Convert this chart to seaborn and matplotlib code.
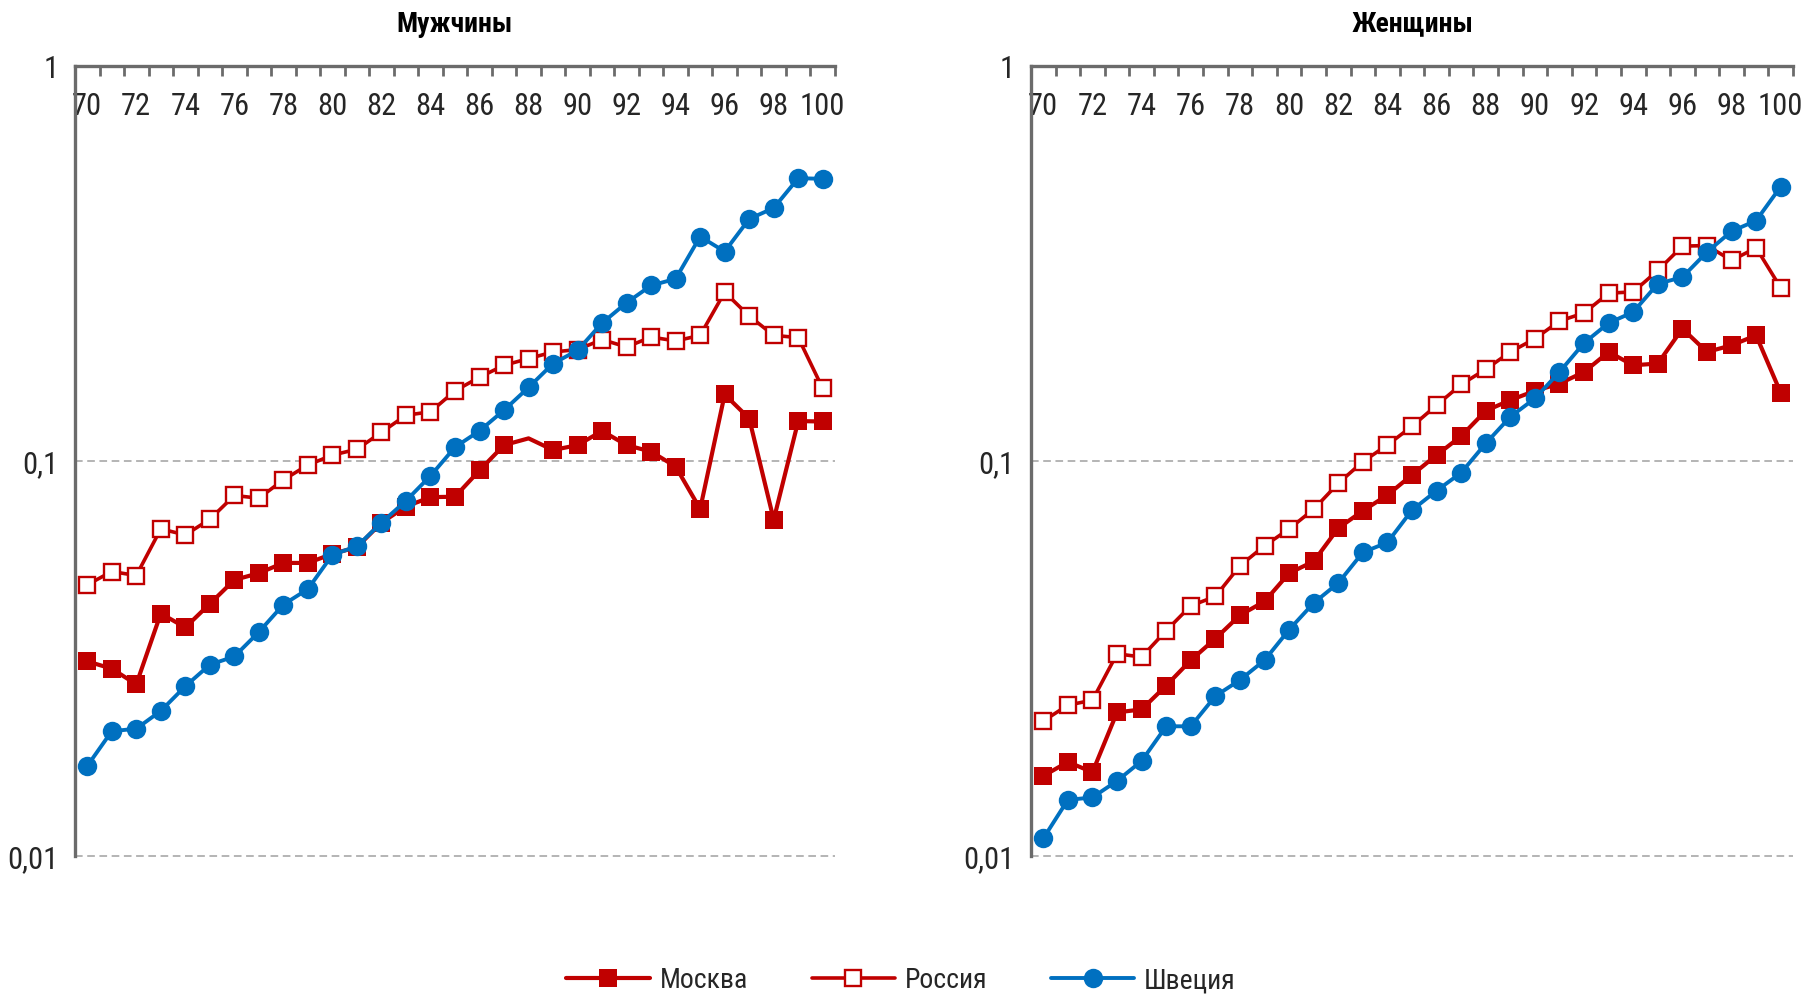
import matplotlib
matplotlib.use("Agg")
import matplotlib.pyplot as plt
import matplotlib.ticker as mticker
from matplotlib import font_manager
import seaborn as sns

year_idx = list(range(70, 101))
tick_labels = [str(y) for y in range(70, 101, 2)]

men_moscow = [0.0311, 0.0298, 0.0272, 0.0411, 0.0379, 0.0435, 0.0500, 0.0520, 0.0552, 0.0552,
              0.0582, 0.0605, 0.0698, 0.0767, 0.0810, 0.0812, 0.0947, 0.1097, 0.1141, 0.1066,
              0.1097, 0.1191, 0.1097, 0.1056, 0.0968, 0.0756, 0.1474, 0.1281, 0.0710, 0.1262, 0.1259]
men_russia = [0.0486, 0.0525, 0.0513, 0.0673, 0.0650, 0.0712, 0.0818, 0.0805, 0.0896, 0.0977,
              0.1035, 0.1071, 0.1182, 0.1306, 0.1332, 0.1505, 0.1630, 0.1747, 0.1817, 0.1888,
              0.1915, 0.2029, 0.1944, 0.2060, 0.2013, 0.2080, 0.2676, 0.2328, 0.2080, 0.2053, 0.1526]
men_sweden = [0.0169, 0.0207, 0.0210, 0.0233, 0.0269, 0.0305, 0.0320, 0.0369, 0.0433, 0.0474,
              0.0579, 0.0608, 0.0698, 0.0793, 0.0917, 0.1084, 0.1192, 0.1345, 0.1535, 0.1765,
              0.1906, 0.2235, 0.2516, 0.2782, 0.2892, 0.3700, 0.3390, 0.4100, 0.4370, 0.5200, 0.5180]

women_moscow = [0.01595, 0.0173, 0.0163, 0.0231, 0.0235, 0.0270, 0.0313, 0.0355, 0.0407, 0.0441,
                0.0520, 0.0557, 0.0676, 0.0748, 0.0820, 0.0922, 0.1035, 0.1156, 0.1340, 0.1426,
                0.1505, 0.1570, 0.1680, 0.1888, 0.1747, 0.1765, 0.2163, 0.1888, 0.1963, 0.2080, 0.1488]
women_russia = [0.02196, 0.0241, 0.0248, 0.0325, 0.0319, 0.0372, 0.0430, 0.0454, 0.0543, 0.0610,
                0.0673, 0.0755, 0.0878, 0.0996, 0.1098, 0.1224, 0.1384, 0.1562, 0.1707, 0.1888,
                0.2040, 0.2261, 0.2370, 0.2660, 0.2680, 0.3036, 0.3500, 0.3510, 0.3220, 0.3465, 0.2745]
women_sweden = [0.01108, 0.01387, 0.01407, 0.01549, 0.0174, 0.0213, 0.0213, 0.0254, 0.0279, 0.0313,
                0.0374, 0.0437, 0.0491, 0.0587, 0.0622, 0.0751, 0.0841, 0.0934, 0.1108, 0.1294,
                0.1440, 0.1680, 0.1990, 0.2235, 0.2383, 0.2810, 0.2920, 0.3380, 0.3816, 0.4060, 0.4950]

titles = ["Мужчины", "Женщины"]
series_names = ["Москва", "Россия", "Швеция"]
y_ticks = [0.01, 0.1, 1]
y_tick_labels = ["0,01", "0,1", "1"]

RED = "#C00000"
BLUE = "#0070C0"
AXIS = "#6b6b6b"

sns.set_style("white")
avail = {f.name for f in font_manager.fontManager.ttflist}
cands = ["Roboto Condensed", "Liberation Sans Narrow", "Noto Sans Condensed",
         "Open Sans Condensed", "DejaVu Sans Condensed", "Noto Sans Display Condensed"]
chosen = [c for c in cands if c in avail]
condensed_found = bool(chosen)
if chosen:
    FAM = [chosen[0], "DejaVu Sans"]
else:
    FAM = ["DejaVu Sans"]
plt.rcParams["font.family"] = FAM
plt.rcParams["font.stretch"] = "condensed"

TICK_FS = 22 if condensed_found else 16
TITLE_FS = 20 if condensed_found else 16
LEG_FS = 20 if condensed_found else 17

fig = plt.figure(figsize=(18.02, 9.95), dpi=100)
W, H = 1802, 995
ax_l = fig.add_axes([75 / W, 1 - 857 / H, (835 - 75) / W, (857 - 67) / H])
ax_r = fig.add_axes([1031 / W, 1 - 857 / H, (1793 - 1031) / W, (857 - 67) / H])

panels = [
    (ax_l, men_moscow, men_russia, men_sweden, titles[0]),
    (ax_r, women_moscow, women_russia, women_sweden, titles[1]),
]

for i, (ax, mos, rus, swe, title) in enumerate(panels):
    skip = [k for k in range(len(year_idx)) if not (i == 0 and year_idx[k] == 88)]
    sns.lineplot(x=year_idx, y=mos, ax=ax, color=RED, linewidth=3.0, marker="s",
                 markersize=13.5, markerfacecolor=RED, markeredgecolor=RED,
                 markeredgewidth=0, markevery=skip, label=series_names[0], legend=False, zorder=3)
    sns.lineplot(x=year_idx, y=rus, ax=ax, color=RED, linewidth=2.6, marker="s",
                 markersize=11.5, markerfacecolor="white", markeredgecolor=RED,
                 markeredgewidth=1.7, label=series_names[1], legend=False, zorder=4)
    sns.lineplot(x=year_idx, y=swe, ax=ax, color=BLUE, linewidth=2.8, marker="o",
                 markersize=14, markerfacecolor=BLUE, markeredgecolor=BLUE,
                 markeredgewidth=0, label=series_names[2], legend=False, zorder=5)

    ax.set_yscale("log")
    ax.set_ylim(0.01, 1)
    ax.set_xlim(69.5, 100.5)
    ax.set_yticks(y_ticks)
    ax.set_yticklabels(y_tick_labels)
    ax.yaxis.set_minor_locator(mticker.NullLocator())
    ax.tick_params(axis="y", which="major", direction="out", length=6, width=2,
                   color=AXIS, labelsize=TICK_FS, labelcolor="#262626", pad=6)

    ax.xaxis.tick_top()
    ax.set_xticks(list(range(70, 101, 2)))
    ax.set_xticklabels(tick_labels)
    ax.set_xticks([y + 0.5 for y in range(70, 101)], minor=True)
    ax.tick_params(axis="x", which="major", length=0, labelsize=TICK_FS,
                   labelcolor="#262626", pad=-39)
    ax.tick_params(axis="x", which="minor", direction="in", length=7, width=2, color=AXIS)
    ax.set_xlabel("")
    ax.set_ylabel("")

    for s in ["right", "bottom"]:
        ax.spines[s].set_visible(False)
    for s in ["left", "top"]:
        ax.spines[s].set_color(AXIS)
        ax.spines[s].set_linewidth(2.4)

    for yv in [0.1, 0.01]:
        ax.axhline(yv, color="#a0a0a0", linestyle=(0, (5, 3)), linewidth=1.1, zorder=1,
                   clip_on=False)

    ax.grid(False)
    ax.set_facecolor("white")
    ax.text(0.5, 1 + (67 - 24) / (857 - 67), title, transform=ax.transAxes,
            ha="center", va="center", fontsize=TITLE_FS, fontweight="bold", color="black")

handles = ax_r.get_lines()[:3]
fig.legend(handles, series_names, loc="center", bbox_to_anchor=(0.5, 1 - 981 / H),
           ncol=3, frameon=False, fontsize=LEG_FS, handlelength=3.0, handletextpad=0.35,
           columnspacing=2.3, labelcolor="#262626")

fig.savefig("out.png", dpi=100, facecolor="white")
